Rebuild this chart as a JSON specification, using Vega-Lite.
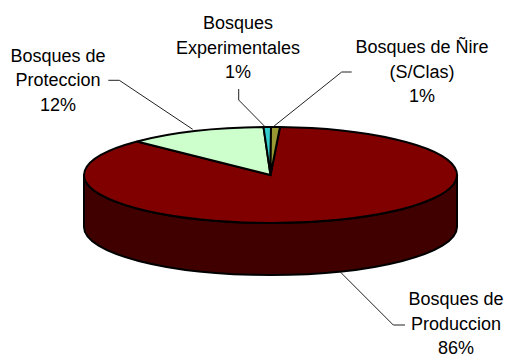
{"$schema":"https://vega.github.io/schema/vega-lite/v6.json","width":507,"height":356,"autosize":"none","padding":0,"background":"white","view":{"stroke":null},
"data":{"values":[
{"sector":"Produccion","share":86,"label":"Bosques de\nProduccion\n86%"},
{"sector":"Proteccion","share":12,"label":"Bosques de\nProteccion\n12%"},
{"sector":"Experimentales","share":1,"label":"Bosques\nExperimentales\n1%"},
{"sector":"Nire","share":1,"label":"Bosques de Ñire\n(S/Clas)\n1%"}]},
"encoding":{},
"layer":[
{"transform":[{"filter":"datum.sector==='Produccion'"}],
"mark":{"type":"point","filled":true,"size":4,"fill":"#400000","stroke":"#000000","strokeWidth":2,"opacity":1},
"encoding":{"x":{"datum":270.5,"type":"quantitative","scale":{"domain":[0,507],"range":[0,507]},"axis":null},"y":{"datum":175,"type":"quantitative","scale":{"domain":[0,356],"range":[0,356]},"axis":null},
"shape":{"field":"sector","type":"nominal","legend":null,"scale":{"domain":["Produccion"],"range":["M-186.5,0 A186.5,48 0 0 0 186.5,0 L186.5,52 A186.5,48 0 0 1 -186.5,52 Z"]}}}},
{"mark":{"type":"point","filled":true,"size":4,"stroke":"#000000","strokeWidth":2,"opacity":1},
"encoding":{"x":{"datum":270.5,"type":"quantitative","scale":{"domain":[0,507],"range":[0,507]},"axis":null},"y":{"datum":175,"type":"quantitative","scale":{"domain":[0,356],"range":[0,356]},"axis":null},
"fill":{"field":"sector","type":"nominal","legend":null,"scale":{"domain":["Produccion","Proteccion","Experimentales","Nire"],"range":["#800000","#CCFFCC","#33CCCC","#999933"]}},
"shape":{"field":"sector","type":"nominal","legend":null,"scale":{"domain":["Produccion","Proteccion","Experimentales","Nire"],"range":[
"M0,0 L9.5,-47.94 A186.5,48 0 1 1 -133.5,-33.5 Z",
"M0,0 L-133.5,-33.5 A186.5,48 0 0 1 -7,-47.97 Z",
"M0,0 L-7,-47.97 A186.5,48 0 0 1 0.5,-48 Z",
"M0,0 L0.5,-48 A186.5,48 0 0 1 9.5,-47.94 Z"]}}}},
{"mark":{"type":"point","filled":false,"size":4,"fill":null,"stroke":"#222222","strokeWidth":1,"opacity":1},
"encoding":{"x":{"datum":270.5,"type":"quantitative","scale":{"domain":[0,507],"range":[0,507]},"axis":null},"y":{"datum":175,"type":"quantitative","scale":{"domain":[0,356],"range":[0,356]},"axis":null},
"shape":{"field":"sector","type":"nominal","legend":null,"scale":{"domain":["Produccion","Proteccion","Experimentales","Nire"],"range":[
"M69.5,96.7 L122.8,150 L134.5,150",
"M-162.2,-94.7 L-151.2,-94.7 L-77.8,-45.7",
"M-31.8,-86 L-31.8,-75 L-5.5,-48.3",
"M81.2,-103 L71.2,-103 L2.8,-48.3"]}}}},
{"transform":[{"filter":"datum.sector==='Produccion'"}],"mark":{"type":"text","font":"Liberation Sans","fontSize":18,"lineHeight":24.5,"lineBreak":"\n","align":"center","baseline":"top","color":"#000000"},
"encoding":{"text":{"field":"label","type":"nominal"},"x":{"datum":456,"type":"quantitative","scale":{"domain":[0,507],"range":[0,507]},"axis":null},"y":{"datum":291,"type":"quantitative","scale":{"domain":[0,356],"range":[0,356]},"axis":null}}},
{"transform":[{"filter":"datum.sector==='Proteccion'"}],"mark":{"type":"text","font":"Liberation Sans","fontSize":18,"lineHeight":24.7,"lineBreak":"\n","align":"center","baseline":"top","color":"#000000"},
"encoding":{"text":{"field":"label","type":"nominal"},"x":{"datum":58,"type":"quantitative","scale":{"domain":[0,507],"range":[0,507]},"axis":null},"y":{"datum":47.5,"type":"quantitative","scale":{"domain":[0,356],"range":[0,356]},"axis":null}}},
{"transform":[{"filter":"datum.sector==='Experimentales'"}],"mark":{"type":"text","font":"Liberation Sans","fontSize":18,"lineHeight":24.7,"lineBreak":"\n","align":"center","baseline":"top","color":"#000000"},
"encoding":{"text":{"field":"label","type":"nominal"},"x":{"datum":238,"type":"quantitative","scale":{"domain":[0,507],"range":[0,507]},"axis":null},"y":{"datum":15,"type":"quantitative","scale":{"domain":[0,356],"range":[0,356]},"axis":null}}},
{"transform":[{"filter":"datum.sector==='Nire'"}],"mark":{"type":"text","font":"Liberation Sans","fontSize":18,"lineHeight":24.7,"lineBreak":"\n","align":"center","baseline":"top","color":"#000000"},
"encoding":{"text":{"field":"label","type":"nominal"},"x":{"datum":422,"type":"quantitative","scale":{"domain":[0,507],"range":[0,507]},"axis":null},"y":{"datum":39,"type":"quantitative","scale":{"domain":[0,356],"range":[0,356]},"axis":null}}}
],
"resolve":{"scale":{"shape":"independent"}}}
